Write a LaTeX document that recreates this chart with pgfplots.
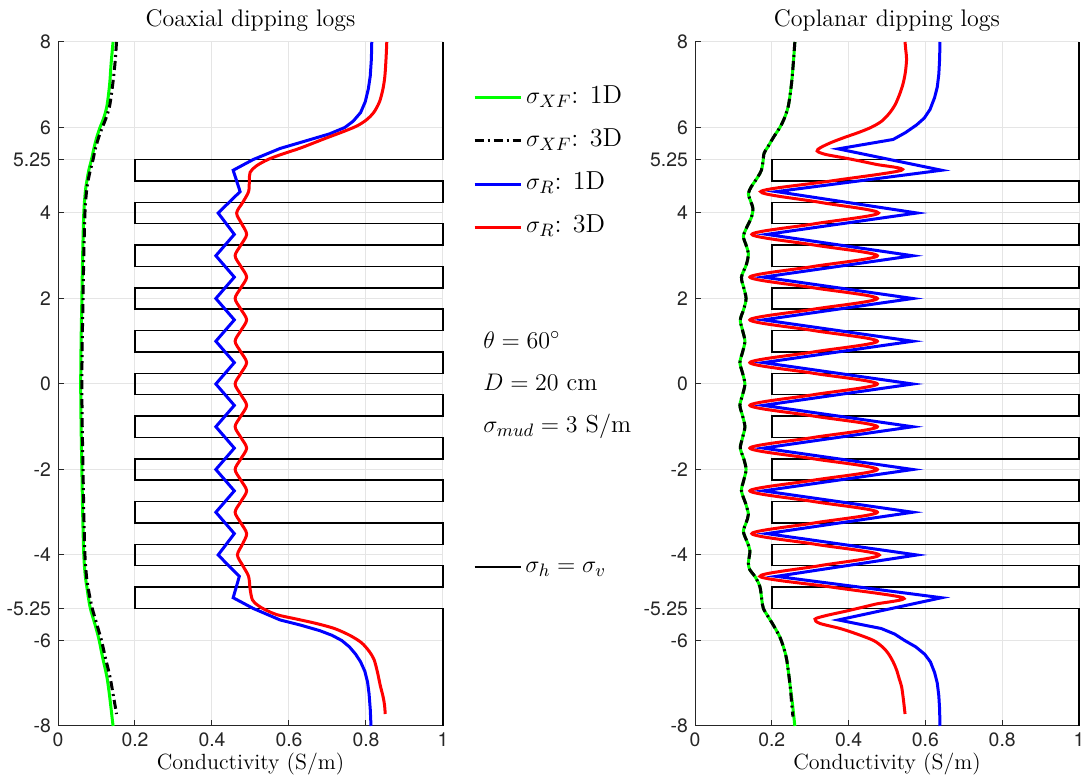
\documentclass[border=0pt]{standalone}
\usepackage{pgfplots}
\pgfplotsset{compat=1.18}
\usepackage{fontspec}
\newfontfamily\tickfont{TeX Gyre Heros}

\pgfplotstableread{
x y
0.143 8
0.138 7.5
0.134 7.0
0.127 6.5
0.118 6.2
0.109 6.0
0.100 5.75
0.093 5.5
0.087 5.25
0.080 5.0
0.075 4.75
0.071 4.5
0.067 4.0
0.064 3.0
0.062 2.0
0.060 1.0
0.059 0
0.060 -1
0.062 -2
0.064 -3
0.067 -4
0.071 -4.5
0.075 -4.75
0.079 -5.0
0.084 -5.25
0.092 -5.5
0.100 -5.75
0.107 -6.0
0.116 -6.4
0.127 -6.85
0.134 -7.3
0.143 -8
}\coaxXFone

\pgfplotstableread{
x y
0.152 8
0.148 7.5
0.142 7.0
0.134 6.5
0.124 6.2
0.115 6.0
0.105 5.75
0.097 5.5
0.091 5.25
0.084 5.0
0.078 4.75
0.074 4.5
0.070 4.0
0.067 3.0
0.065 2.0
0.063 1.0
0.062 0
0.063 -1
0.065 -2
0.067 -3
0.070 -4
0.074 -4.5
0.078 -4.75
0.083 -5.0
0.089 -5.25
0.097 -5.5
0.105 -5.75
0.113 -6.0
0.123 -6.4
0.135 -6.85
0.144 -7.3
0.152 -7.72
}\coaxXFthree

\pgfplotstableread{
x y
0.815 8
0.814 7.6
0.811 7.2
0.806 6.9
0.798 6.6
0.786 6.35
0.767 6.15
0.745 6.0
0.705 5.85
0.645 5.69
0.577 5.51
0.507 5.25
0.455 5.0
0.473 4.5
0.416 4.0
0.458 3.5
0.410 3.0
0.458 2.5
0.410 2.0
0.458 1.5
0.410 1.0
0.458 0.5
0.410 0
0.458 -0.5
0.410 -1
0.458 -1.5
0.410 -2
0.458 -2.5
0.410 -3
0.458 -3.5
0.416 -4
0.471 -4.5
0.455 -5.0
0.507 -5.25
0.577 -5.52
0.630 -5.64
0.680 -5.77
0.712 -5.88
0.737 -6.0
0.757 -6.15
0.773 -6.32
0.786 -6.5
0.797 -6.72
0.804 -6.97
0.808 -7.25
0.811 -7.6
0.813 -8
}\coaxRone

\pgfplotstableread{
x y
0.854 8
0.852 7.6
0.849 7.2
0.844 6.9
0.835 6.6
0.820 6.35
0.800 6.17
0.775 6.03
0.740 5.9
0.690 5.73
0.630 5.52
0.580 5.37
0.545 5.25
0.515 5.1
0.499 4.95
0.497 4.75
0.495 4.5
0.480 4.25
0.464 4.0
0.477 3.75
0.490 3.5
0.475 3.25
0.460 3.0
0.475 2.75
0.490 2.5
0.475 2.25
0.460 2.0
0.475 1.75
0.490 1.5
0.475 1.25
0.460 1.0
0.475 0.75
0.490 0.5
0.475 0.25
0.460 0
0.475 -0.25
0.490 -0.5
0.475 -0.75
0.460 -1.0
0.475 -1.25
0.490 -1.5
0.475 -1.75
0.460 -2.0
0.475 -2.25
0.490 -2.5
0.475 -2.75
0.460 -3.0
0.475 -3.25
0.490 -3.5
0.479 -3.75
0.466 -4.0
0.480 -4.25
0.495 -4.5
0.499 -4.8
0.505 -5.05
0.518 -5.17
0.538 -5.28
0.570 -5.4
0.620 -5.5
0.670 -5.6
0.718 -5.72
0.758 -5.88
0.788 -6.05
0.808 -6.25
0.821 -6.45
0.830 -6.75
0.837 -7.05
0.844 -7.3
0.848 -7.5
0.850 -7.72
}\coaxRthree

\pgfplotstableread{
x y
0.260 8
0.256 7.5
0.251 7.0
0.243 6.5
0.232 6.2
0.221 6.0
0.205 5.78
0.190 5.55
0.180 5.4
0.177 5.2
0.173 5.0
0.162 4.82
0.147 4.62
0.139 4.45
0.146 4.25
0.151 4.1
0.147 3.9
0.134 3.65
0.126 3.45
0.133 3.25
0.139 3.05
0.134 2.8
0.121 2.5
0.127 2.25
0.133 2.0
0.127 1.75
0.118 1.5
0.124 1.25
0.130 1.0
0.124 0.75
0.117 0.5
0.124 0.25
0.130 0
0.124 -0.25
0.117 -0.5
0.124 -0.75
0.130 -1.0
0.124 -1.25
0.118 -1.5
0.127 -1.75
0.133 -2.0
0.127 -2.25
0.121 -2.5
0.132 -2.8
0.139 -3.05
0.133 -3.25
0.126 -3.45
0.136 -3.7
0.143 -3.9
0.139 -4.19
0.143 -4.35
0.156 -4.5
0.169 -4.74
0.174 -5.05
0.178 -5.25
0.191 -5.45
0.204 -5.64
0.221 -5.92
0.232 -6.2
0.239 -6.46
0.247 -7.0
0.254 -7.5
0.260 -8
}\copXFone

\pgfplotstableread{
x y
0.260 8
0.256 7.5
0.251 7.0
0.243 6.5
0.232 6.2
0.221 6.0
0.205 5.78
0.190 5.55
0.180 5.4
0.177 5.2
0.173 5.0
0.162 4.82
0.147 4.62
0.139 4.45
0.146 4.25
0.151 4.1
0.147 3.9
0.134 3.65
0.126 3.45
0.133 3.25
0.139 3.05
0.134 2.8
0.121 2.5
0.127 2.25
0.133 2.0
0.127 1.75
0.118 1.5
0.124 1.25
0.130 1.0
0.124 0.75
0.117 0.5
0.124 0.25
0.130 0
0.124 -0.25
0.117 -0.5
0.124 -0.75
0.130 -1.0
0.124 -1.25
0.118 -1.5
0.127 -1.75
0.133 -2.0
0.127 -2.25
0.121 -2.5
0.132 -2.8
0.139 -3.05
0.133 -3.25
0.126 -3.45
0.136 -3.7
0.143 -3.9
0.139 -4.19
0.143 -4.35
0.156 -4.5
0.169 -4.74
0.174 -5.05
0.178 -5.25
0.191 -5.45
0.204 -5.64
0.221 -5.92
0.232 -6.2
0.239 -6.46
0.247 -7.0
0.252 -7.5
0.255 -7.78
}\copXFthree

\pgfplotstableread{
x y
0.638 8
0.637 7.6
0.635 7.25
0.631 6.95
0.624 6.7
0.612 6.42
0.597 6.22
0.577 6.06
0.548 5.88
0.516 5.72
0.373 5.5
0.642 5.0
0.212 4.5
0.578 4.0
0.187 3.5
0.567 3.0
0.178 2.5
0.567 2.0
0.178 1.5
0.567 1.0
0.178 0.5
0.567 0
0.178 -0.5
0.567 -1
0.178 -1.5
0.567 -2
0.178 -2.5
0.567 -3
0.187 -3.5
0.578 -4
0.212 -4.5
0.642 -5.0
0.373 -5.52
0.485 -5.72
0.520 -5.85
0.546 -6.0
0.575 -6.15
0.598 -6.32
0.613 -6.5
0.624 -6.75
0.631 -7.0
0.635 -7.3
0.637 -7.6
0.638 -8
}\copRone

\pgfplotstableread{
x y
0.547 8
0.549 7.8
0.551 7.6
0.548 7.3
0.542 7.03
0.533 6.78
0.521 6.53
0.505 6.32
0.485 6.14
0.458 6.0
0.425 5.88
0.390 5.77
0.355 5.65
0.327 5.53
0.318 5.45
0.340 5.37
0.400 5.27
0.470 5.14
0.538 5.0
0.355 4.75
0.171 4.5
0.325 4.25
0.478 4.0
0.313 3.75
0.148 3.5
0.311 3.25
0.475 3.0
0.309 2.75
0.143 2.5
0.309 2.25
0.475 2.0
0.309 1.75
0.143 1.5
0.309 1.25
0.475 1.0
0.309 0.75
0.143 0.5
0.309 0.25
0.475 0
0.309 -0.25
0.143 -0.5
0.309 -0.75
0.475 -1.0
0.309 -1.25
0.143 -1.5
0.309 -1.75
0.475 -2.0
0.309 -2.25
0.143 -2.5
0.309 -2.75
0.475 -3.0
0.311 -3.25
0.148 -3.5
0.314 -3.75
0.480 -4.0
0.325 -4.25
0.169 -4.5
0.355 -4.75
0.542 -5.0
0.470 -5.15
0.400 -5.3
0.340 -5.42
0.3125 -5.5
0.325 -5.6
0.378 -5.72
0.422 -5.85
0.465 -6.0
0.488 -6.15
0.503 -6.3
0.516 -6.5
0.525 -6.69
0.532 -6.9
0.538 -7.08
0.543 -7.4
0.547 -7.72
}\copRthree

\pgfplotstableread{
x y
1 8
1 5.25
0.2 5.25
0.2 4.75
1 4.75
1 4.25
0.2 4.25
0.2 3.75
1 3.75
1 3.25
0.2 3.25
0.2 2.75
1 2.75
1 2.25
0.2 2.25
0.2 1.75
1 1.75
1 1.25
0.2 1.25
0.2 0.75
1 0.75
1 0.25
0.2 0.25
0.2 -0.25
1 -0.25
1 -0.75
0.2 -0.75
0.2 -1.25
1 -1.25
1 -1.75
0.2 -1.75
0.2 -2.25
1 -2.25
1 -2.75
0.2 -2.75
0.2 -3.25
1 -3.25
1 -3.75
0.2 -3.75
0.2 -4.25
1 -4.25
1 -4.75
0.2 -4.75
0.2 -5.25
1 -5.25
1 -8
}\model

\pgfplotsset{dip/.style={
  width=192.5pt, height=342pt, scale only axis,
  xmin=0, xmax=1, ymin=-8, ymax=8,
  axis lines=left, axis line style={-, black!85, line width=0.5pt},
  xtick={0,0.2,0.4,0.6,0.8,1}, xticklabels={0,0.2,0.4,0.6,0.8,1},
  ytick={-8,-6,-5.25,-4,-2,0,2,4,5.25,6,8},
  yticklabels={-8,-6,-5.25,-4,-2,0,2,4,5.25,6,8},
  tick label style={font=\tickfont\fontsize{9.7}{11}\selectfont, text=black!85},
  tick align=inside, major tick length=3pt, tick style={black!85, line width=0.5pt},
  grid=major, major grid style={black!10, line width=0.5pt},
  title style={font=\fontsize{12}{14}\selectfont, inner sep=0pt, anchor=base, at={(axis description cs:0.5,1)}, yshift=1.85pt},
  xlabel style={font=\fontsize{11}{13}\selectfont, inner sep=0pt, anchor=base, at={(axis description cs:0.5,0)}, yshift=-22pt},
  xlabel={Conductivity (S/m)},
  clip=false,
  legend cell align=left,
  legend image code/.code={\draw[##1] (0pt,0pt) -- (23pt,0pt);},
  legend style={draw=none, fill=none, inner sep=0pt, outer sep=0pt, row sep=9.15pt, column sep=2pt,
    nodes={inner sep=0pt, text height=9pt, text depth=3.5pt, font=\fontsize{13}{15}\selectfont}},
}}

\begin{document}
\begin{tikzpicture}
\path[use as bounding box] (-29pt,-26.5pt) rectangle (513pt,363pt);
\begin{axis}[dip, at={(0pt,0pt)}, anchor=south west,
  title={Coaxial dipping logs},
  legend style={at={(axis description cs:1.078,0.9371)}, anchor=north west}]
\addplot[black, line width=0.7pt, forget plot] table[x=x,y=y] {\model};
\addplot[green, line width=1.5pt, smooth] table[x=x,y=y] {\coaxXFone};
\addplot[black, line width=1.5pt, smooth, dash pattern=on 4.5pt off 2pt on 1pt off 2pt] table[x=x,y=y] {\coaxXFthree};
\addplot[blue, line width=1.5pt] table[x=x,y=y] {\coaxRone};
\addplot[red, line width=1.5pt, smooth] table[x=x,y=y] {\coaxRthree};
\legend{$\sigma_{XF}$: 1D, $\sigma_{XF}$: 3D, $\sigma_{R}$: 1D, $\sigma_{R}$: 3D}
\node[anchor=base west, inner sep=0pt, font=\fontsize{12.3}{14}\selectfont] at (axis description cs:1.104,0.5526) {$\theta = 60^\circ$};
\node[anchor=base west, inner sep=0pt, font=\fontsize{12.3}{14}\selectfont] at (axis description cs:1.104,0.4912) {$D = 20$ cm};
\node[anchor=base west, inner sep=0pt, font=\fontsize{12.3}{14}\selectfont] at (axis description cs:1.104,0.4298) {$\sigma_{mud} = 3$ S/m};
\end{axis}
\begin{axis}[dip, at={(318.5pt,0pt)}, anchor=south west, width=192pt,
  title={Coplanar dipping logs},
  legend style={at={(axis description cs:-0.5755,0.2507)}, anchor=north west}]
\addplot[black, line width=0.7pt] table[x=x,y=y] {\model};
\addplot[green, line width=1.5pt, smooth, forget plot] table[x=x,y=y] {\copXFone};
\addplot[black, line width=1.5pt, smooth, dash pattern=on 4.5pt off 2pt on 1pt off 2pt, forget plot] table[x=x,y=y] {\copXFthree};
\addplot[blue, line width=1.5pt, forget plot] table[x=x,y=y] {\copRone};
\addplot[red, line width=1.5pt, smooth, forget plot] table[x=x,y=y] {\copRthree};
\legend{$\sigma_h = \sigma_v$}
\end{axis}
\end{tikzpicture}
\end{document}
